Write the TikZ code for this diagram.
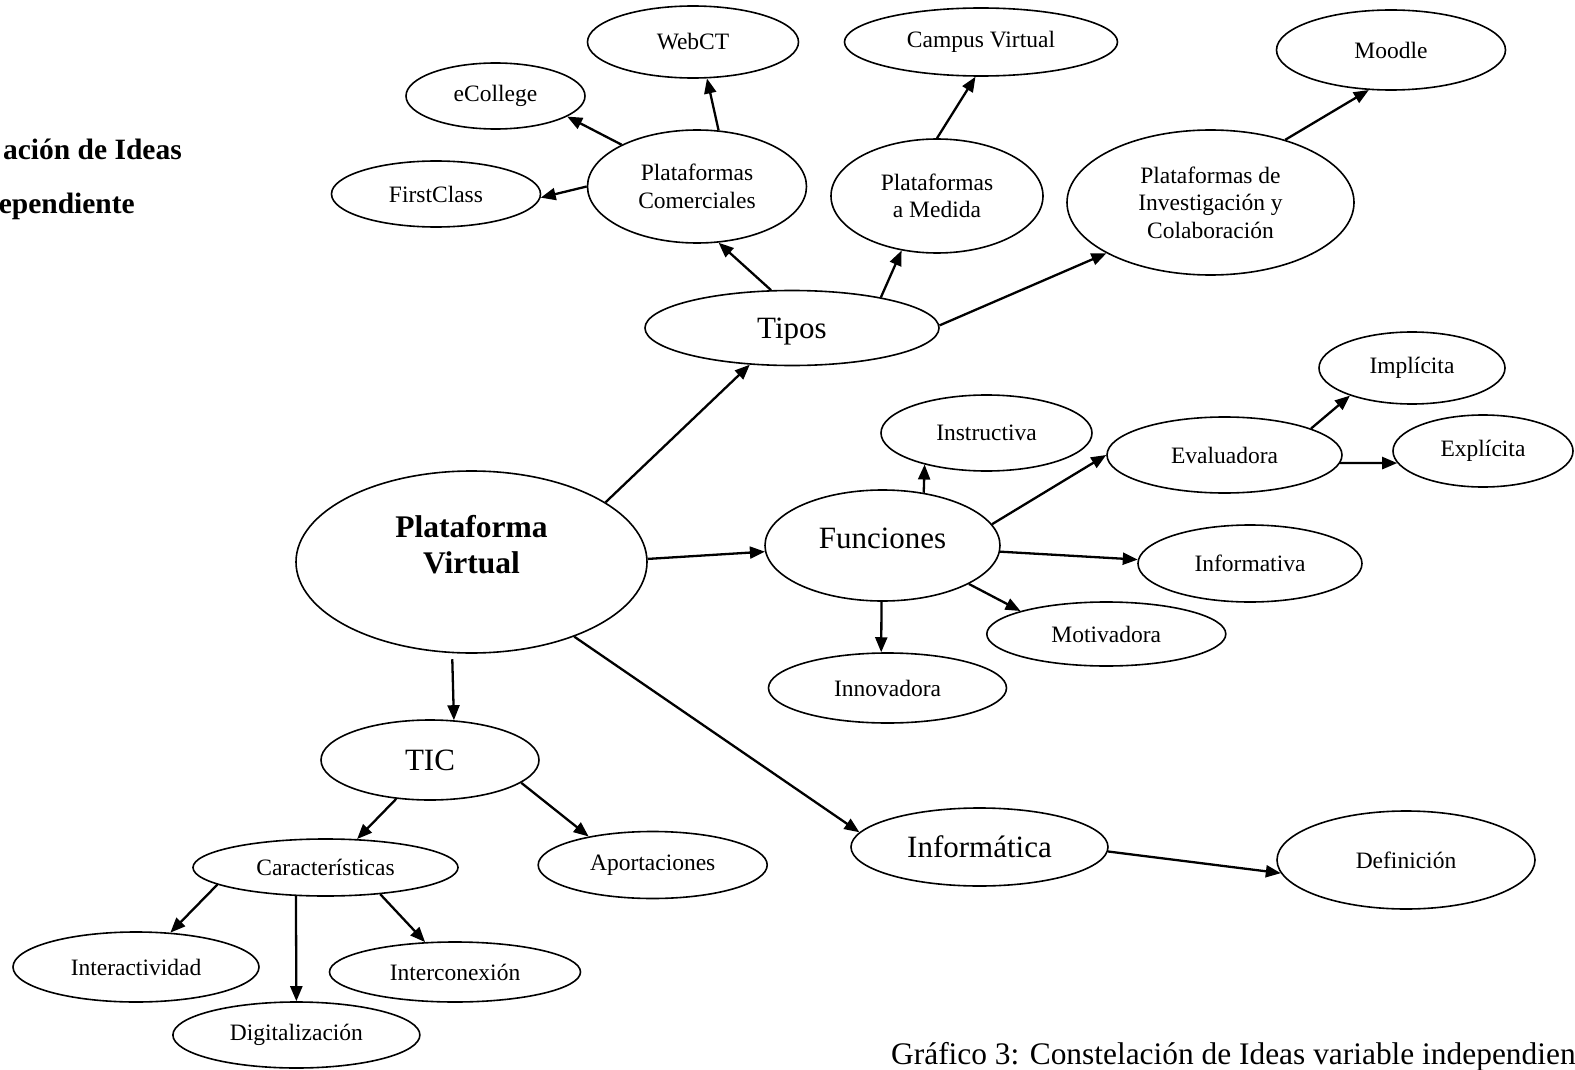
\documentclass[tikz,border=0pt]{standalone}
\usepackage{fontspec}
\setmainfont{Liberation Serif}
\usetikzlibrary{shapes.geometric,arrows.meta}
\begin{document}
\begin{tikzpicture}[x=1pt,y=-1pt,
  ell/.style={draw, ellipse, line width=1.6pt, inner sep=0pt, align=center},
  sm/.style={font=\fontsize{23.5}{27.5}\selectfont},
  lg/.style={font=\fontsize{31}{36}\selectfont},
  hd/.style={font=\bfseries\fontsize{31.5}{36}\selectfont, align=center},
  arr/.style={line width=2.3pt, -{Triangle[length=15pt,width=12pt]}}]
\useasboundingbox (0,0) rectangle (1575,1070);

% header fragments and caption
\node[font=\bfseries\fontsize{29.5}{34}\selectfont, anchor=base east, inner sep=0pt] (hdA) at (182,160) {ación de Ideas};
\node[font=\bfseries\fontsize{29.5}{34}\selectfont, anchor=base east, inner sep=0pt] (hdB) at (135,214) {ependiente};
\node[font=\fontsize{31.4}{36}\selectfont, anchor=base west, inner sep=0pt] (caption) at (891,1064) {Gráfico 3: Constelación de Ideas variable independien};

% concept ellipses
\node[ell,sm,minimum width=211,minimum height=72] (webct) at (693,42) {WebCT};
\node[ell,sm,minimum width=273,minimum height=68] (campus) at (981,42) {Campus Virtual};
\node[ell,sm,minimum width=229,minimum height=80] (moodle) at (1391,50) {Moodle};
\node[ell,sm,minimum width=179,minimum height=66] (ecollege) at (495.5,96) {eCollege};
\node[ell,sm,minimum width=209,minimum height=66] (firstclass) at (436,194) {FirstClass};
\node[ell,sm,minimum width=219,minimum height=113] (pc) at (697,186.5) {Plataformas\\Comerciales};
\node[ell,sm,minimum width=212,minimum height=114] (pm) at (937,196) {Plataformas\\a Medida};
\node[ell,sm,minimum width=287,minimum height=145] (pic) at (1210.5,202.5) {Plataformas de\\Investigación y\\Colaboración};
\node[ell,lg,text depth=0pt,minimum width=294,minimum height=75] (tipos) at (792,328) {Tipos};
\node[ell,sm,minimum width=211,minimum height=76] (instructiva) at (986.5,433) {Instructiva};
\node[ell,sm,minimum width=186,minimum height=72] (implicita) at (1412,368) {Implícita};
\node[ell,sm,minimum width=235,minimum height=76] (evaluadora) at (1224.5,455) {Evaluadora};
\node[ell,sm,minimum width=180,minimum height=72] (explicita) at (1483,451) {Explícita};
\node[ell,minimum width=351,minimum height=182] (pv) at (471.5,562) {};
\node[hd] (pvtext) at (471.5,545) {Plataforma\\Virtual};
\node[ell,minimum width=235,minimum height=111] (funciones) at (882.5,545.5) {};
\node[lg] (funtext) at (882.5,538) {Funciones};
\node[ell,sm,minimum width=224,minimum height=77] (informativa) at (1250,563.5) {Informativa};
\node[ell,sm,minimum width=239,minimum height=64] (motivadora) at (1106.3,634) {Motivadora};
\node[ell,sm,minimum width=238,minimum height=70] (innovadora) at (887.5,688) {Innovadora};
\node[ell,lg,minimum width=218,minimum height=80] (tic) at (430,760) {TIC};
\node[ell,sm,minimum width=265,minimum height=57] (caract) at (325.5,867.5) {Características};
\node[ell,sm,minimum width=229,minimum height=67] (aport) at (652.7,865) {Aportaciones};
\node[ell,lg,minimum width=257,minimum height=78] (informatica) at (979.5,847) {Informática};
\node[ell,sm,minimum width=258,minimum height=98] (definicion) at (1406,860) {Definición};
\node[ell,sm,minimum width=246,minimum height=70] (interactividad) at (136,967) {Interactividad};
\node[ell,sm,minimum width=251,minimum height=60] (interconexion) at (455,972) {Interconexión};
\node[ell,sm,minimum width=247,minimum height=66] (digitalizacion) at (296.4,1035) {Digitalización};

% connectors
\draw[arr] (pv.24.2) -- (tipos.221.3);
\draw[arr] (pv.1.3) -- (funciones.183.2);
\draw[arr, shorten <=6pt] (pv.258.3) -- (tic.59.9);
\draw[arr] (pv.324) -- (informatica.173.8);
\draw[arr] (tipos.119.4) -- (pc.291.8);
\draw[arr] (tipos.19) -- (pm.237.9);
\draw[arr] (tipos.1) -- (pic.206.5);
\draw[arr] (pc.151.7) -- (ecollege.344.8);
\draw[arr] (pc.180.4) -- (firstclass.358.9);
\draw[arr] (pc.69.3) -- (webct.291.3);
\draw[arr] (pm.90) -- (campus.261.9);
\draw[arr] (pic.40.4) -- (moodle.241.5);
\draw[arr] (funciones.52.7) -- (instructiva.207.5);
\draw[arr] (funciones.11.7) -- (evaluadora.180);
\draw[arr] (funciones.357) -- (informativa.178.2);
\draw[arr] (funciones.336.6) -- (motivadora.165.5);
\draw[arr] (funciones.269) -- (innovadora.100);
\draw[arr] (evaluadora.17) -- (implicita.204.2);
\draw[arr] (evaluadora.356.7) -- (explicita.188);
\draw[arr] (tic.229.8) -- (caract.42.1);
\draw[arr] (tic.346) -- (aport.156.2);
\draw[arr] (caract.189.1) -- (interactividad.45);
\draw[arr] (caract.224) -- (digitalizacion.north);
\draw[arr] (caract.334.7) -- (interconexion.135.8);
\draw[arr] (informatica.358.2) -- (definicion.186.6);
\end{tikzpicture}
\end{document}
